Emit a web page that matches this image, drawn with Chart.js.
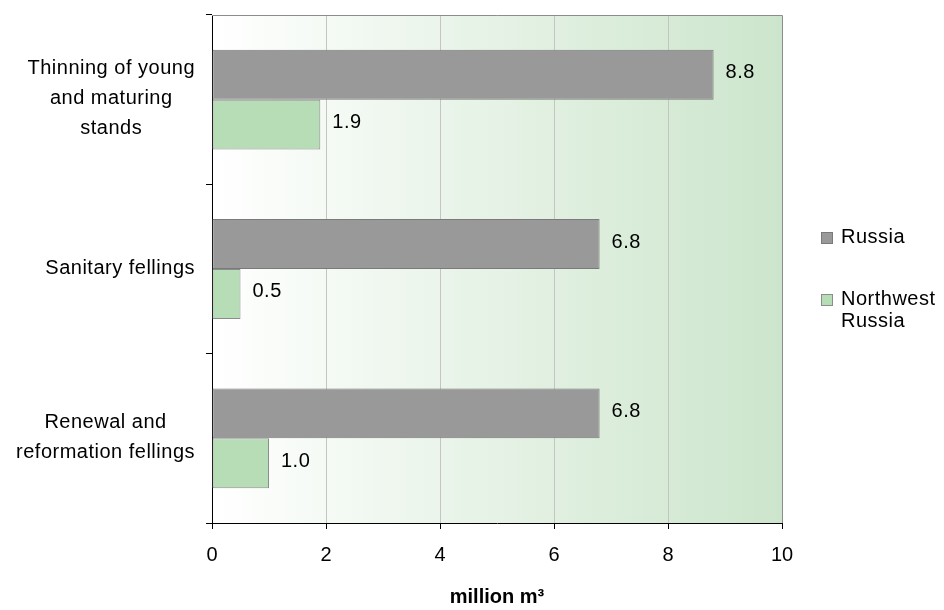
<!DOCTYPE html>
<html>
<head>
<meta charset="utf-8">
<script src="https://cdn.jsdelivr.net/npm/chart.js@4.4.1/dist/chart.umd.min.js"></script>
<style>
  html, body { margin: 0; padding: 0; background: #ffffff; }
  #wrap { width: 944px; height: 610px; position: relative; }
</style>
</head>
<body>
<div id="wrap"><canvas id="c" width="944" height="610"></canvas></div>
<script>
// Wood removed in intermediate fellings, million m³
const categories = [
  ['Thinning of young', 'and maturing', 'stands'],
  ['Sanitary fellings'],
  ['Renewal and', 'reformation fellings']
];
const seriesNames = ['Russia', 'Northwest Russia'];
const russia = [8.8, 6.8, 6.8];
const northwest = [1.9, 0.5, 1.0];
const xTicks = [0, 2, 4, 6, 8, 10];
const axisTitle = 'million m³';

const FONT = '"Liberation Sans", Arial, sans-serif';
const FONT_SIZE = 20;
const SPACING = '0.5px';

// plot background: white fading into pale green towards the right
const plotBackground = {
  id: 'plotBackground',
  beforeDraw(chart) {
    const { ctx, chartArea: a } = chart;
    const g = ctx.createLinearGradient(a.left, 0, a.right, 0);
    g.addColorStop(0, '#ffffff');
    g.addColorStop(1, '#cce5cc');
    ctx.save();
    ctx.fillStyle = g;
    ctx.fillRect(a.left, a.top, a.right - a.left, a.bottom - a.top);
    ctx.restore();
  },
  beforeDatasetsDraw(chart) {
    const { ctx, chartArea: a } = chart;
    ctx.save();
    ctx.strokeStyle = '#8c8c8c';
    ctx.lineWidth = 1;
    ctx.beginPath();
    ctx.moveTo(a.left, a.top + 0.5);
    ctx.lineTo(a.right + 0.5, a.top + 0.5);
    ctx.lineTo(a.right + 0.5, a.bottom);
    ctx.stroke();
    ctx.restore();
  }
};

// category names: each block right-aligned against the axis, lines centred in the block
const categoryLabels = {
  id: 'categoryLabels',
  afterDraw(chart) {
    const { ctx } = chart;
    const yScale = chart.scales.y;
    const right = yScale.right - 17;
    const lineH = 30;
    ctx.save();
    ctx.font = `${FONT_SIZE}px ${FONT}`;
    ctx.letterSpacing = SPACING;
    ctx.fillStyle = '#000';
    ctx.textAlign = 'center';
    ctx.textBaseline = 'middle';
    categories.forEach((lines, i) => {
      const w = Math.max(...lines.map(l => ctx.measureText(l).width));
      const cx = right - w / 2;
      const cy = yScale.getPixelForTick(i);
      const y0 = cy - (lines.length - 1) * lineH / 2;
      lines.forEach((l, k) => ctx.fillText(l, cx, y0 + k * lineH - 1));
    });
    ctx.restore();
  }
};

// value printed just past the end of every bar
const valueLabels = {
  id: 'valueLabels',
  afterDatasetsDraw(chart) {
    const { ctx } = chart;
    ctx.save();
    ctx.font = `${FONT_SIZE}px ${FONT}`;
    ctx.letterSpacing = SPACING;
    ctx.fillStyle = '#000';
    ctx.textAlign = 'left';
    ctx.textBaseline = 'middle';
    chart.data.datasets.forEach((ds, di) => {
      chart.getDatasetMeta(di).data.forEach((bar, i) => {
        ctx.fillText(ds.data[i].toFixed(1), bar.x + 12, bar.y - 2);
      });
    });
    ctx.restore();
  }
};

// legend to the right of the plot, wrapping long names
const sideLegend = {
  id: 'sideLegend',
  afterDraw(chart) {
    const { ctx } = chart;
    const boxX = 821, textX = 841, box = 12;
    const maxW = chart.width - textX - 1;
    const rows = [238, 300];
    ctx.save();
    ctx.font = `${FONT_SIZE}px ${FONT}`;
    ctx.letterSpacing = SPACING;
    ctx.textAlign = 'left';
    ctx.textBaseline = 'middle';
    chart.data.datasets.forEach((ds, i) => {
      const y = rows[i];
      ctx.fillStyle = ds.backgroundColor;
      ctx.fillRect(boxX, y - box / 2, box, box);
      ctx.strokeStyle = ds.borderColor;
      ctx.lineWidth = 1;
      ctx.strokeRect(boxX + 0.5, y - box / 2 + 0.5, box - 1, box - 1);
      // word wrap
      const words = ds.label.split(' ');
      const lines = [];
      let cur = '';
      words.forEach(w => {
        const t = cur ? cur + ' ' + w : w;
        if (cur && ctx.measureText(t).width > maxW) { lines.push(cur); cur = w; }
        else cur = t;
      });
      lines.push(cur);
      ctx.fillStyle = '#000';
      lines.forEach((l, k) => ctx.fillText(l, textX, y + k * 22 - 1));
    });
    ctx.restore();
  }
};

new Chart(document.getElementById('c'), {
  type: 'bar',
  data: {
    labels: categories,
    datasets: [
      { label: seriesNames[0], data: russia, backgroundColor: '#999999', borderColor: '#7a7a7a', borderWidth: 1, borderSkipped: false },
      { label: seriesNames[1], data: northwest, backgroundColor: '#b7ddb7', borderColor: '#8c8c8c', borderWidth: 1, borderSkipped: false }
    ]
  },
  options: {
    indexAxis: 'y',
    responsive: false,
    animation: false,
    devicePixelRatio: 1,
    layout: { padding: { top: 15, right: 162, left: 0, bottom: 0 } },
    datasets: { bar: { categoryPercentage: 0.59, barPercentage: 1 } },
    plugins: { legend: { display: false }, tooltip: { enabled: false } },
    scales: {
      x: {
        type: 'linear',
        min: 0,
        max: 10,
        afterBuildTicks: s => { s.ticks = xTicks.map(v => ({ value: v })); },
        ticks: { color: '#000', padding: 14, font: { family: FONT, size: FONT_SIZE } },
        grid: {
          color: c => (c.tick && (c.tick.value === 0 || c.tick.value === 10)) ? 'rgba(0,0,0,0)' : '#c4c4c4',
          tickColor: '#000',
          tickLength: 6,
          lineWidth: 1
        },
        border: { color: '#000', width: 1 },
        title: {
          display: true,
          text: axisTitle,
          color: '#000',
          font: { family: FONT, size: FONT_SIZE, weight: 'bold' },
          padding: { top: 0, bottom: 1 }
        },
        afterFit: s => { s.height = 87; }
      },
      y: {
        ticks: { display: false },
        grid: { offset: true, drawOnChartArea: false, tickColor: '#000', tickLength: 6 },
        border: { color: '#000', width: 1 },
        afterFit: s => { s.width = 212; }
      }
    }
  },
  plugins: [plotBackground, valueLabels, categoryLabels, sideLegend]
});
</script>
</body>
</html>
